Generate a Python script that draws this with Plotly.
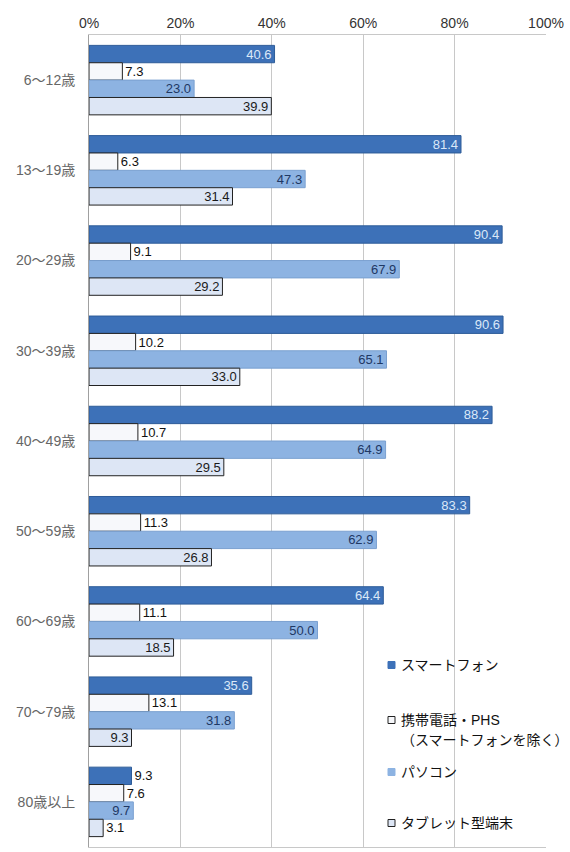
import plotly.graph_objects as go

# Age groups (top to bottom)
ages = ["6～12歳", "13～19歳", "20～29歳", "30～39歳", "40～49歳",
        "50～59歳", "60～69歳", "70～79歳", "80歳以上"]

# Usage rate (%) by device
smartphone = [40.6, 81.4, 90.4, 90.6, 88.2, 83.3, 64.4, 35.6, 9.3]
feature_phone = [7.3, 6.3, 9.1, 10.2, 10.7, 11.3, 11.1, 13.1, 7.6]
pc = [23.0, 47.3, 67.9, 65.1, 64.9, 62.9, 50.0, 31.8, 9.7]
tablet = [39.9, 31.4, 29.2, 33.0, 29.5, 26.8, 18.5, 9.3, 3.1]

series_names = ["スマートフォン", "携帯電話・PHS", "パソコン", "タブレット型端末"]
legend_sub = {1: "（スマートフォンを除く）"}

FONT = "Liberation Sans, Arial, Noto Sans CJK JP, sans-serif"

W, H = 570, 852
M = dict(l=89, r=24, t=35, b=5)


def positions(values, limit):
    return ["inside" if v >= limit else "outside" for v in values]


def colors(values, limit, inside_color):
    return [inside_color if v >= limit else "#111111" for v in values]


fig = go.Figure()

styles = [
    (smartphone, "#3d71b8", "#2e5c98", 15, "#dbe8f8"),
    (feature_phone, "#f7f8fb", "#222222", 1000, "#111111"),
    (pc, "#8db3e2", "#7aa0d0", 8, "#1f3864"),
    (tablet, "#dde6f5", "#222222", 8, "#1a1a1a"),
]

for i, (vals, fill, line, limit, txtc) in enumerate(styles):
    fig.add_trace(go.Bar(
        y=ages, x=vals, orientation="h", name=series_names[i],
        marker=dict(color=fill, line=dict(color=line, width=1)),
        text=[f"{v:.1f}" for v in vals],
        textposition=positions(vals, limit),
        insidetextanchor="end",
        textangle=0,
        constraintext="none",
        cliponaxis=False,
        textfont=dict(family=FONT, size=13, color=colors(vals, limit, txtc)),
    ))

# Legend drawn as swatches + labels in the lower right of the plot
plot_w = W - M["l"] - M["r"]
plot_h = H - M["t"] - M["b"]


def px_x(px):
    return (px - M["l"]) / plot_w


def px_y(py):
    return (H - M["b"] - py) / plot_h


legend_rows = [665, 720, 772, 823]
for i, (vals, fill, line, limit, txtc) in enumerate(styles):
    yc = legend_rows[i]
    edge = line if i in (1, 3) else fill
    fig.add_shape(
        type="rect", xref="paper", yref="paper",
        x0=px_x(388), x1=px_x(395), y0=px_y(yc + 3.5), y1=px_y(yc - 3.5),
        fillcolor=fill, line=dict(color=edge, width=1),
    )
    fig.add_annotation(
        xref="paper", yref="paper", x=px_x(399), y=px_y(yc),
        xanchor="left", yanchor="middle", showarrow=False,
        text=series_names[i],
        font=dict(family=FONT, size=14, color="#111111"),
    )
    if i in legend_sub:
        fig.add_annotation(
            xref="paper", yref="paper", x=px_x(399), y=px_y(yc + 20),
            xanchor="left", yanchor="middle", showarrow=False,
            text=legend_sub[i],
            font=dict(family=FONT, size=14, color="#111111"),
        )

fig.update_layout(
    width=W, height=H,
    margin=M,
    paper_bgcolor="white", plot_bgcolor="white",
    barmode="group", bargap=0.23, bargroupgap=0.0,
    font=dict(family=FONT, size=12, color="#333333"),
    showlegend=False,
    uniformtext=dict(minsize=8, mode="show"),
)

fig.update_xaxes(
    side="top", range=[0, 100], dtick=20, ticksuffix="%",
    showgrid=True, gridcolor="#c8c8c8", gridwidth=1,
    zeroline=False, showline=True, linecolor="#c8c8c8", mirror=True,
    tickfont=dict(family=FONT, size=14, color="#333333"),
    automargin=False, fixedrange=True,
)
fig.update_yaxes(
    autorange="reversed", showline=True, linecolor="#a0a0a0",
    ticks="", ticklabelstandoff=10,
    tickfont=dict(family=FONT, size=14, color="#666666"),
    automargin=False, fixedrange=True,
)

fig.write_html("out.html")
